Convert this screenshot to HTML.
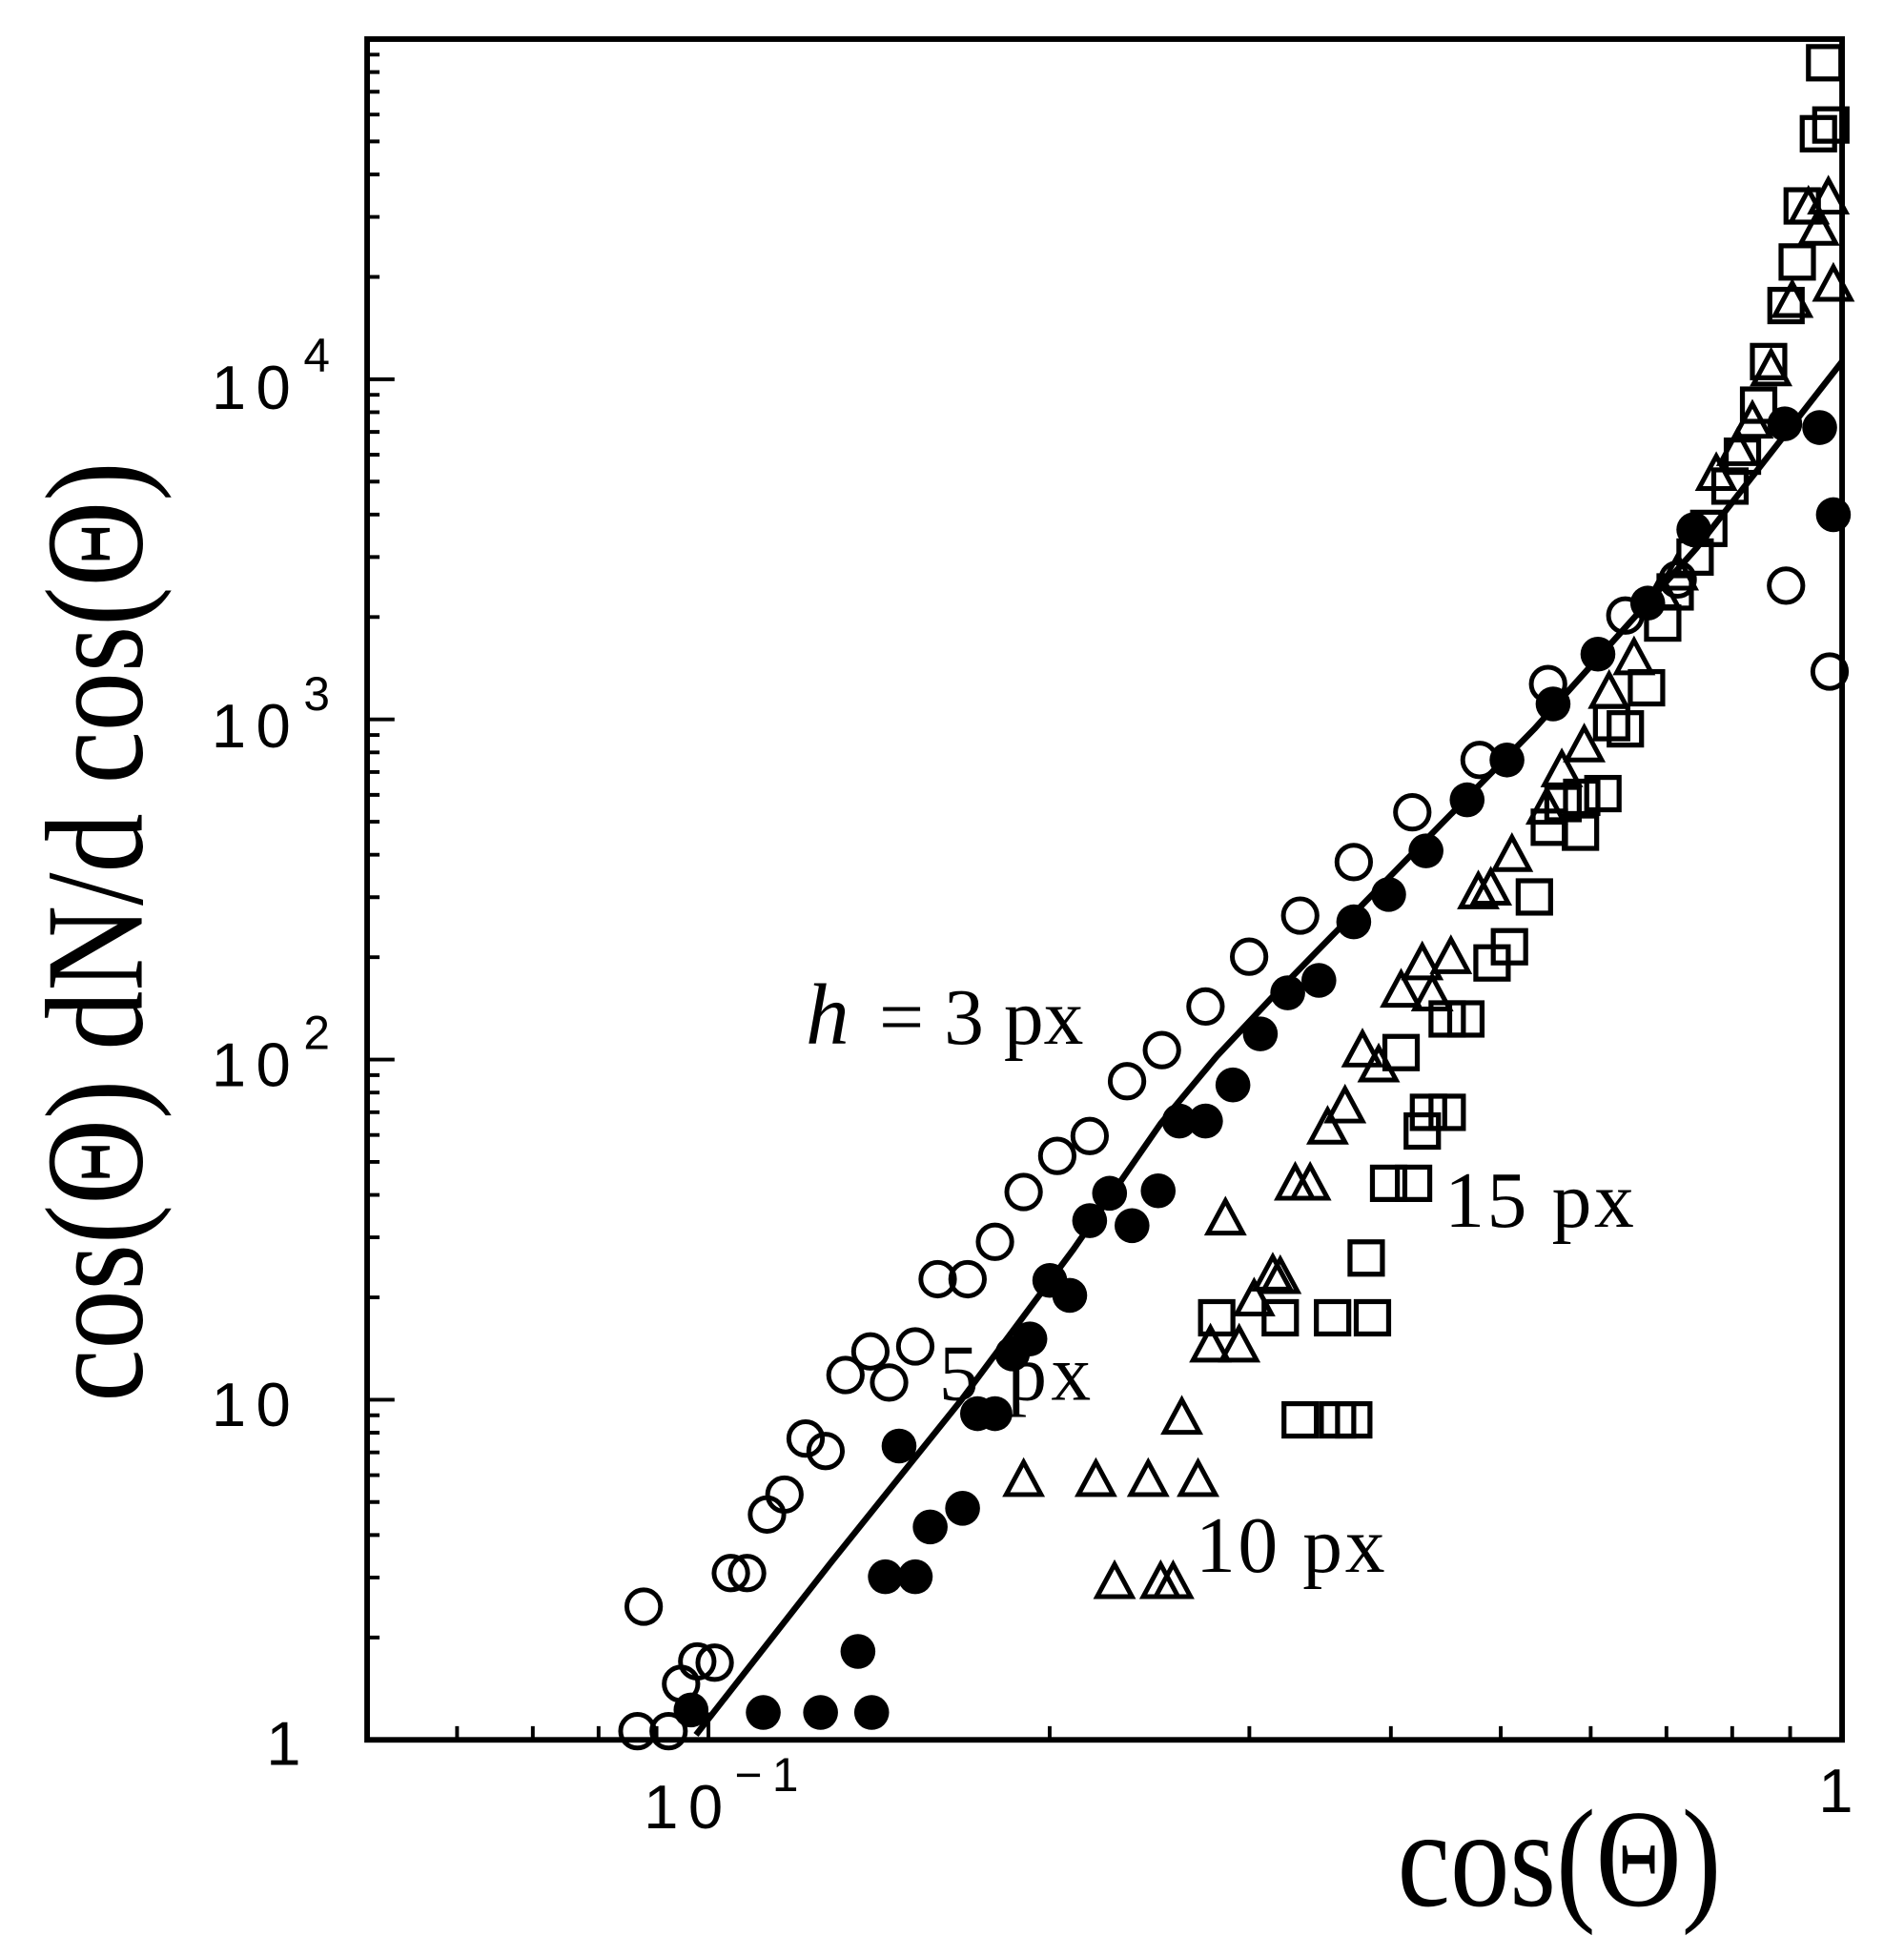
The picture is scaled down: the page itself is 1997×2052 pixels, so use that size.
<!DOCTYPE html>
<html><head><meta charset="utf-8"><style>
html,body{margin:0;padding:0;background:#fff;}
svg{display:block;}
</style></head><body>
<svg width="1997" height="2052" viewBox="-1.7 -0.4 1528.4 1571" preserveAspectRatio="none" xmlns="http://www.w3.org/2000/svg">
<defs>
<circle id="oc" r="13.5" fill="none" stroke="#000" stroke-width="3.8"/>
<circle id="fc" r="14" fill="#000"/>
<rect id="sq" x="-13" y="-13" width="26" height="26" fill="none" stroke="#000" stroke-width="4"/>
<path id="tr" d="M0,-16 L14,10 L-14,10 Z" fill="none" stroke="#000" stroke-width="3.8" stroke-linejoin="miter"/>
</defs>
<rect x="293" y="31" width="1184" height="1366" fill="none" stroke="#000" stroke-width="4.5"/>
<path stroke="#000" stroke-width="3" fill="none" d="
M293,1314.8h10M293,1266.6h10M293,1232.5h10M293,1206h10M293,1184.4h10M293,1166.1h10M293,1150.3h10M293,1136.3h10
M293,1123.8h22
M293,1041.6h10M293,993.4h10M293,959.3h10M293,932.8h10M293,911.2h10M293,892.9h10M293,877.1h10M293,863.1h10
M293,850.6h22
M293,768.4h10M293,720.2h10M293,686.1h10M293,659.6h10M293,638h10M293,619.7h10M293,603.9h10M293,589.9h10
M293,577.4h22
M293,495.2h10M293,447h10M293,412.9h10M293,386.4h10M293,364.8h10M293,346.5h10M293,330.7h10M293,316.7h10
M293,304.2h22
M293,222h10M293,173.8h10M293,139.7h10M293,113.2h10M293,91.6h10M293,73.3h10M293,57.5h10M293,43.5h10"/>
<path stroke="#000" stroke-width="3" fill="none" d="
M365.2,1397v-11M426,1397v-11M478.8,1397v-11M525.3,1397v-11M567,1397v-22
M840.9,1397v-11M1001.2,1397v-11M1114.8,1397v-11M1203,1397v-11M1275.2,1397v-11M1336,1397v-11M1388.8,1397v-11M1435.3,1397v-11"/>
<polyline fill="none" stroke="#000" stroke-width="5" stroke-linejoin="round" points="557,1393 665,1255 770,1124 860,1003 930,902 975,848 1020,800 1100,718 1230,585 1360,440 1477,290"/>
<g>
<use href="#oc" x="515" y="1290"/><use href="#oc" x="510" y="1390"/><use href="#oc" x="535" y="1390"/><use href="#oc" x="545" y="1352"/><use href="#oc" x="558" y="1334"/><use href="#oc" x="572" y="1335"/><use href="#oc" x="585" y="1263"/><use href="#oc" x="598" y="1263"/><use href="#oc" x="614" y="1216"/><use href="#oc" x="628" y="1200"/><use href="#oc" x="645" y="1155"/><use href="#oc" x="661" y="1165"/><use href="#oc" x="677" y="1104"/><use href="#oc" x="697" y="1085"/><use href="#oc" x="712" y="1110"/><use href="#oc" x="733" y="1081"/><use href="#oc" x="751" y="1027"/><use href="#oc" x="775" y="1027"/><use href="#oc" x="797" y="997"/><use href="#oc" x="820" y="957"/><use href="#oc" x="847" y="928"/><use href="#oc" x="873" y="912"/><use href="#oc" x="903" y="868"/><use href="#oc" x="931" y="843"/><use href="#oc" x="966" y="808"/><use href="#oc" x="1001" y="768"/><use href="#oc" x="1042" y="735"/><use href="#oc" x="1085" y="692"/><use href="#oc" x="1132" y="652"/><use href="#oc" x="1186" y="610"/><use href="#oc" x="1241" y="549"/><use href="#oc" x="1303" y="494"/><use href="#oc" x="1345" y="465"/><use href="#oc" x="1432" y="470"/><use href="#oc" x="1467" y="539"/>
</g>
<g>
<use href="#fc" x="553" y="1373"/><use href="#fc" x="611" y="1375"/><use href="#fc" x="657" y="1375"/><use href="#fc" x="698" y="1375"/><use href="#fc" x="687" y="1326"/><use href="#fc" x="709" y="1266"/><use href="#fc" x="733" y="1266"/><use href="#fc" x="720" y="1161"/><use href="#fc" x="745" y="1226"/><use href="#fc" x="771" y="1211"/><use href="#fc" x="783" y="1135"/><use href="#fc" x="797" y="1135"/><use href="#fc" x="811" y="1087"/><use href="#fc" x="825" y="1075"/><use href="#fc" x="841" y="1028"/><use href="#fc" x="857" y="1040"/><use href="#fc" x="873" y="980"/><use href="#fc" x="889" y="958"/><use href="#fc" x="907" y="984"/><use href="#fc" x="928" y="956"/><use href="#fc" x="945" y="900"/><use href="#fc" x="966" y="900"/><use href="#fc" x="988" y="871"/><use href="#fc" x="1010" y="830"/><use href="#fc" x="1032" y="797"/><use href="#fc" x="1057" y="787"/><use href="#fc" x="1085" y="740"/><use href="#fc" x="1113" y="718"/><use href="#fc" x="1143" y="683"/><use href="#fc" x="1176" y="642"/><use href="#fc" x="1208" y="610"/><use href="#fc" x="1245" y="565"/><use href="#fc" x="1281" y="525"/><use href="#fc" x="1321" y="484"/><use href="#fc" x="1358" y="425"/><use href="#fc" x="1431" y="340"/><use href="#fc" x="1459" y="343"/><use href="#fc" x="1470" y="413"/>
</g>
<g>
<use href="#sq" x="1463" y="50"/><use href="#sq" x="1468" y="100"/><use href="#sq" x="1458" y="107"/><use href="#sq" x="1445" y="165"/><use href="#sq" x="1441" y="210"/><use href="#sq" x="1432" y="245"/><use href="#sq" x="1418" y="290"/><use href="#sq" x="1410" y="325"/><use href="#sq" x="1397" y="366"/><use href="#sq" x="1387" y="390"/><use href="#sq" x="1370" y="424"/><use href="#sq" x="1359" y="447"/><use href="#sq" x="1343" y="475"/><use href="#sq" x="1333" y="500"/><use href="#sq" x="1320" y="552"/><use href="#sq" x="1303" y="585"/><use href="#sq" x="1292" y="580"/><use href="#sq" x="1285" y="637"/><use href="#sq" x="1268" y="640"/><use href="#sq" x="1253" y="645"/><use href="#sq" x="1267" y="668"/><use href="#sq" x="1242" y="664"/><use href="#sq" x="1230" y="720"/><use href="#sq" x="1210" y="760"/><use href="#sq" x="1196" y="773"/><use href="#sq" x="1175" y="818"/><use href="#sq" x="1160" y="818"/><use href="#sq" x="1123" y="845"/><use href="#sq" x="1160" y="893"/><use href="#sq" x="1145" y="893"/><use href="#sq" x="1140" y="908"/><use href="#sq" x="1133" y="950"/><use href="#sq" x="1113" y="950"/><use href="#sq" x="1095" y="1010"/><use href="#sq" x="1100" y="1058"/><use href="#sq" x="1068" y="1058"/><use href="#sq" x="1026" y="1058"/><use href="#sq" x="975" y="1058"/><use href="#sq" x="1042" y="1140"/><use href="#sq" x="1072" y="1140"/><use href="#sq" x="1085" y="1140"/>
</g>
<g>
<use href="#tr" x="1466" y="160"/><use href="#tr" x="1470" y="230"/><use href="#tr" x="1458" y="185"/><use href="#tr" x="1450" y="168"/><use href="#tr" x="1437" y="243"/><use href="#tr" x="1420" y="298"/><use href="#tr" x="1405" y="340"/><use href="#tr" x="1393" y="362"/><use href="#tr" x="1376" y="382"/><use href="#tr" x="1345" y="462"/><use href="#tr" x="1332" y="478"/><use href="#tr" x="1310" y="530"/><use href="#tr" x="1290" y="557"/><use href="#tr" x="1270" y="600"/><use href="#tr" x="1252" y="620"/><use href="#tr" x="1240" y="650"/><use href="#tr" x="1212" y="688"/><use href="#tr" x="1195" y="715"/><use href="#tr" x="1185" y="718"/><use href="#tr" x="1140" y="775"/><use href="#tr" x="1123" y="797"/><use href="#tr" x="1148" y="800"/><use href="#tr" x="1163" y="770"/><use href="#tr" x="1092" y="845"/><use href="#tr" x="1105" y="857"/><use href="#tr" x="1078" y="890"/><use href="#tr" x="1064" y="907"/><use href="#tr" x="1038" y="952"/><use href="#tr" x="1050" y="952"/><use href="#tr" x="982" y="980"/><use href="#tr" x="1020" y="1025"/><use href="#tr" x="1026" y="1027"/><use href="#tr" x="1005" y="1045"/><use href="#tr" x="970" y="1082"/><use href="#tr" x="993" y="1082"/><use href="#tr" x="947" y="1140"/><use href="#tr" x="820" y="1190"/><use href="#tr" x="878" y="1190"/><use href="#tr" x="920" y="1190"/><use href="#tr" x="960" y="1190"/><use href="#tr" x="893" y="1272"/><use href="#tr" x="930" y="1272"/><use href="#tr" x="940" y="1272"/>
</g>
<g font-family="Liberation Serif, serif" font-size="64" fill="#000">
<text x="645" y="838"><tspan font-style="italic" font-size="70">h</tspan> <tspan dx="8">= 3 px</tspan></text>
<text x="752" y="1124" textLength="122">5 px</text>
<text x="958" y="1262" textLength="152">10 px</text>
<text x="1158" y="985" textLength="152">15 px</text>
</g>
<g font-family="Liberation Sans, sans-serif" font-size="50" fill="#000" letter-spacing="8">
<text x="168" y="328">10</text><text x="242" y="298" font-size="38">4</text>
<text x="168" y="600">10</text><text x="242" y="570" font-size="38">3</text>
<text x="168" y="872">10</text><text x="242" y="842" font-size="38">2</text>
<text x="168" y="1145">10</text>
<text x="212" y="1417">1</text>
<text x="515" y="1468">10</text><text x="588" y="1438" font-size="38">−1</text>
<text x="1458" y="1455">1</text>
</g>
<text x="1120" y="1530" textLength="260" lengthAdjust="spacingAndGlyphs" font-family="Liberation Serif, serif" font-size="112" fill="#000">cos(Θ)</text>
<text transform="translate(112,748) rotate(-90)" x="0" y="0" text-anchor="middle" textLength="755" lengthAdjust="spacingAndGlyphs" font-family="Liberation Serif, serif" font-size="112" fill="#000">cos(Θ) dN/d cos(Θ)</text>
</svg>
</body></html>
